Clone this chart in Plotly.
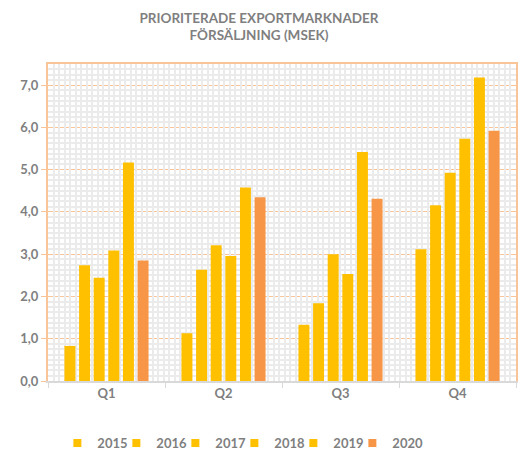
import plotly.graph_objects as go

quarters = ["Q1", "Q2", "Q3", "Q4"]
years = ["2015", "2016", "2017", "2018", "2019", "2020"]
v2015 = [0.83, 1.13, 1.33, 3.12]
v2016 = [2.74, 2.63, 1.84, 4.16]
v2017 = [2.44, 3.21, 3.00, 4.93]
v2018 = [3.09, 2.96, 2.53, 5.73]
v2019 = [5.17, 4.58, 5.42, 7.18]
v2020 = [2.85, 4.35, 4.31, 5.92]
series = [v2015, v2016, v2017, v2018, v2019, v2020]
colors = ["#FFC000", "#FFC000", "#FFC000", "#FFC000", "#FFC000", "#F79646"]

FONT = "Lato"
GRAY = "#7F7F7F"
ORANGE_GRID = "#FAC499"
PATTERN = "#EBEBEB"

fig = go.Figure()
for yr, vals, c in zip(years, series, colors):
    fig.add_trace(go.Bar(x=quarters, y=vals, name=yr, showlegend=False,
                         marker=dict(color=c, line=dict(width=0))))
# legend entries with small square symbols
for yr, c in zip(years, colors):
    fig.add_trace(go.Scatter(x=[None], y=[None], name=yr, mode="markers",
                             marker=dict(symbol="square", size=8, color=c)))
# blank spacer entry so the last legend label is not clipped
fig.add_trace(go.Scatter(x=[None], y=[None], name=" ", mode="markers",
                         marker=dict(symbol="square", size=8, color="rgba(0,0,0,0)")))

# helper trace so the overlay axis (background pattern) is drawn
fig.add_trace(go.Scatter(x=[0], y=[0], xaxis="x2", mode="markers",
                         marker=dict(opacity=0), showlegend=False, hoverinfo="skip"))

fig.update_layout(
    width=518, height=453,
    margin=dict(l=48, r=2, t=64, b=72, autoexpand=False),
    paper_bgcolor="white", plot_bgcolor="white",
    separators=", ",
    barmode="group", bargap=0.25, bargroupgap=0.25,
    title=dict(text="PRIORITERADE EXPORTMARKNADER<br>FÖRSÄLJNING (MSEK)",
               x=0.5, xref="container", xanchor="center", y=0.95, yanchor="top",
               font=dict(family=FONT, size=13.5, color=GRAY, weight="bold")),
    font=dict(family=FONT, size=13, color=GRAY, weight="bold"),
    showlegend=True,
    hovermode=False,
    legend=dict(orientation="h", x=0.02, xanchor="left", y=-0.196, yanchor="middle",
                font=dict(family=FONT, size=13, color=GRAY, weight="bold"),
                itemwidth=30, entrywidth=14, traceorder="normal"),
    xaxis=dict(showgrid=False, showline=True, linecolor="#D9D9D9", linewidth=1.5,
               ticks="outside", tickson="boundaries", ticklen=5, tickcolor="#D9D9D9",
               automargin=False,
               tickfont=dict(family=FONT, size=13, color=GRAY, weight="bold")),
    xaxis2=dict(overlaying="x", anchor="y", side="top", range=[0, 85], dtick=1,
                showgrid=True, gridcolor=PATTERN, gridwidth=1.5, showticklabels=False,
                ticks="", showline=True, linecolor=ORANGE_GRID, linewidth=2, zeroline=False,
                automargin=False, fixedrange=True),
    yaxis=dict(range=[0, 7.5], dtick=1, tickformat=".1f", showgrid=True, gridcolor=ORANGE_GRID,
               gridwidth=1.2, zeroline=False, showline=True, linecolor=ORANGE_GRID, linewidth=2,
               mirror=True, ticks="outside", ticklen=5, tickcolor=ORANGE_GRID, automargin=False,
               minor=dict(dtick=0.125, showgrid=True, gridcolor=PATTERN, gridwidth=1.5),
               tickfont=dict(family=FONT, size=13, color=GRAY, weight="bold")),
)

fig.write_html("out.html", config={"displayModeBar": False},
               post_script="document.body.style.margin='0';document.body.style.overflow='hidden';")
